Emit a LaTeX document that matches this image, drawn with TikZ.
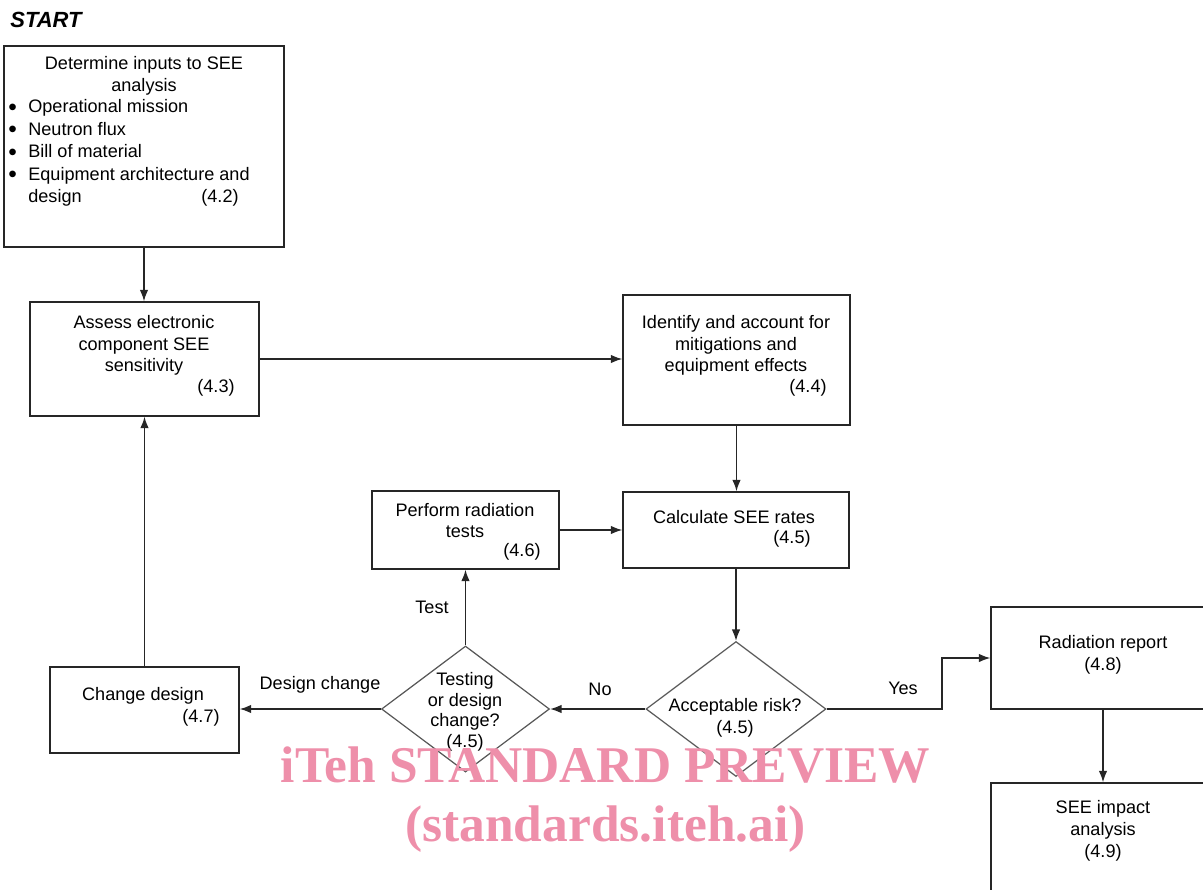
\documentclass[tikz,border=0pt]{standalone}
\usepackage{fontspec}
\setmainfont{Liberation Sans}
\newfontfamily\wmfont{Liberation Serif}
\usetikzlibrary{positioning,shapes.geometric,arrows.meta}
\definecolor{wmpink}{RGB}{238,143,170}
\newcommand{\lbul}{\makebox[0.42cm][l]{\hspace{0.6pt}\raisebox{-1.4pt}{\scalebox{1.35}{\textbullet}}}}

\begin{document}
\begin{tikzpicture}[x=0.02cm,y=-0.02cm,
  box/.style={draw=black!85,line width=0.8pt,rectangle,inner sep=0pt},
  decision/.style={draw=black!65,line width=0.7pt,diamond,inner sep=0pt},
  txt/.style={font=\fontsize{10.3}{12.4}\selectfont,align=center,inner sep=0pt},
  flow/.style={-{Latex[length=6.5pt,width=4.8pt]},line width=0.8pt,draw=black!85}]
\useasboundingbox (0,0) rectangle (1203,889);
\clip (0,0) rectangle (1203,889);

% title
\node[anchor=west,inner sep=0pt,font=\fontsize{12.5}{14}\selectfont\bfseries\itshape] (start) at (10,20) {START};

% boxes
\node[box,minimum width=5.6cm,minimum height=4.02cm] (inputs) at (144,146.5) {};
\node[txt] (inputsHead) at (144,75.5) {Determine inputs to SEE\\analysis};
\node[txt,align=left,anchor=west,font=\fontsize{10.3}{12.8}\selectfont] (inputsList) at (7,153) {\lbul Operational mission\\\lbul Neutron flux\\\lbul Bill of material\\\lbul Equipment architecture and\\\hspace*{0.42cm}design};
\node[txt] (n42) at (220,198) {(4.2)};

\node[box,minimum width=4.58cm,minimum height=2.28cm] (assess) at (144.5,359) {};
\node[txt] (assessText) at (144,345.5) {Assess electronic\\component SEE\\sensitivity};
\node[txt] (n43) at (216,388) {(4.3)};

\node[box,minimum width=4.54cm,minimum height=2.6cm] (identify) at (736.5,360) {};
\node[txt] (identifyText) at (736,345.5) {Identify and account for\\mitigations and\\equipment effects};
\node[txt] (n44) at (808,388) {(4.4)};

\node[box,minimum width=3.74cm,minimum height=1.56cm] (perform) at (465.5,530) {};
\node[txt] (performText) at (465,520.5) {Perform radiation\\tests};
\node[txt] (n46) at (522,552) {(4.6)};

\node[box,minimum width=4.52cm,minimum height=1.52cm] (calc) at (736,530) {};
\node[txt] (calcText) at (734,517.5) {Calculate SEE rates};
\node[txt] (n45) at (792,538.5) {(4.5)};

\node[box,minimum width=3.78cm,minimum height=1.72cm] (change) at (144.5,710) {};
\node[txt] (changeText) at (143,695.5) {Change design};
\node[txt] (n47) at (201,718) {(4.7)};

\node[box,minimum width=4.48cm,minimum height=2.04cm] (report) at (1103,658) {};
\node[txt] (reportText) at (1103,654.5) {Radiation report\\(4.8)};

\node[box,minimum width=4.48cm,minimum height=3.32cm] (impact) at (1103,866) {};
\node[txt] (impactText) at (1103,831) {SEE impact\\analysis\\(4.9)};

% decisions
\node[decision,minimum width=3.6cm,minimum height=2.7cm] (accept) at (736,709) {};
\node[txt] (acceptText) at (735,717.5) {Acceptable risk?\\(4.5)};

\node[decision,minimum width=3.36cm,minimum height=2.52cm] (testing) at (465.5,709) {};
\node[txt,font=\fontsize{10.3}{11.7}\selectfont] (testingText) at (465,712) {Testing\\or design\\change?\\(4.5)};

% connectors
\coordinate (yesBend) at (942,709);
\draw[flow] (inputs.south) -- (inputs.south |- assess.north);
\draw[flow] (assess.east) -- (assess.east -| identify.west);
\draw[flow] (identify.south) -- (identify.south |- calc.north);
\draw[flow] (perform.east) -- (perform.east -| calc.west);
\draw[flow] (calc.south) -- (accept.north);
\draw[flow] (accept.west) -- (testing.east);
\draw[flow] (testing.north) -- (testing.north |- perform.south);
\draw[flow] (testing.west) -- (testing.west -| change.east);
\draw[flow] (change.north) -- (change.north |- assess.south);
\draw[flow] (accept.east) -- (yesBend) |- (report.west);
\draw[flow] (report.south) -- (impact.north);

% connector labels
\node[txt] (testLabel) at (432,607) {Test};
\node[txt] (noLabel) at (600,689) {No};
\node[txt] (yesLabel) at (903,688) {Yes};
\node[txt] (designLabel) at (320,685) {Design change};

% watermark
\node[inner sep=0pt,font=\wmfont\bfseries\fontsize{29.3}{33}\selectfont,text=wmpink] (wmTop) at (605.5,765) {iTeh STANDARD PREVIEW};
\node[inner sep=0pt,font=\wmfont\bfseries\fontsize{29.3}{33}\selectfont,text=wmpink] (wmBottom) at (605.5,829) {(standards.iteh.ai)};
\end{tikzpicture}
\end{document}
